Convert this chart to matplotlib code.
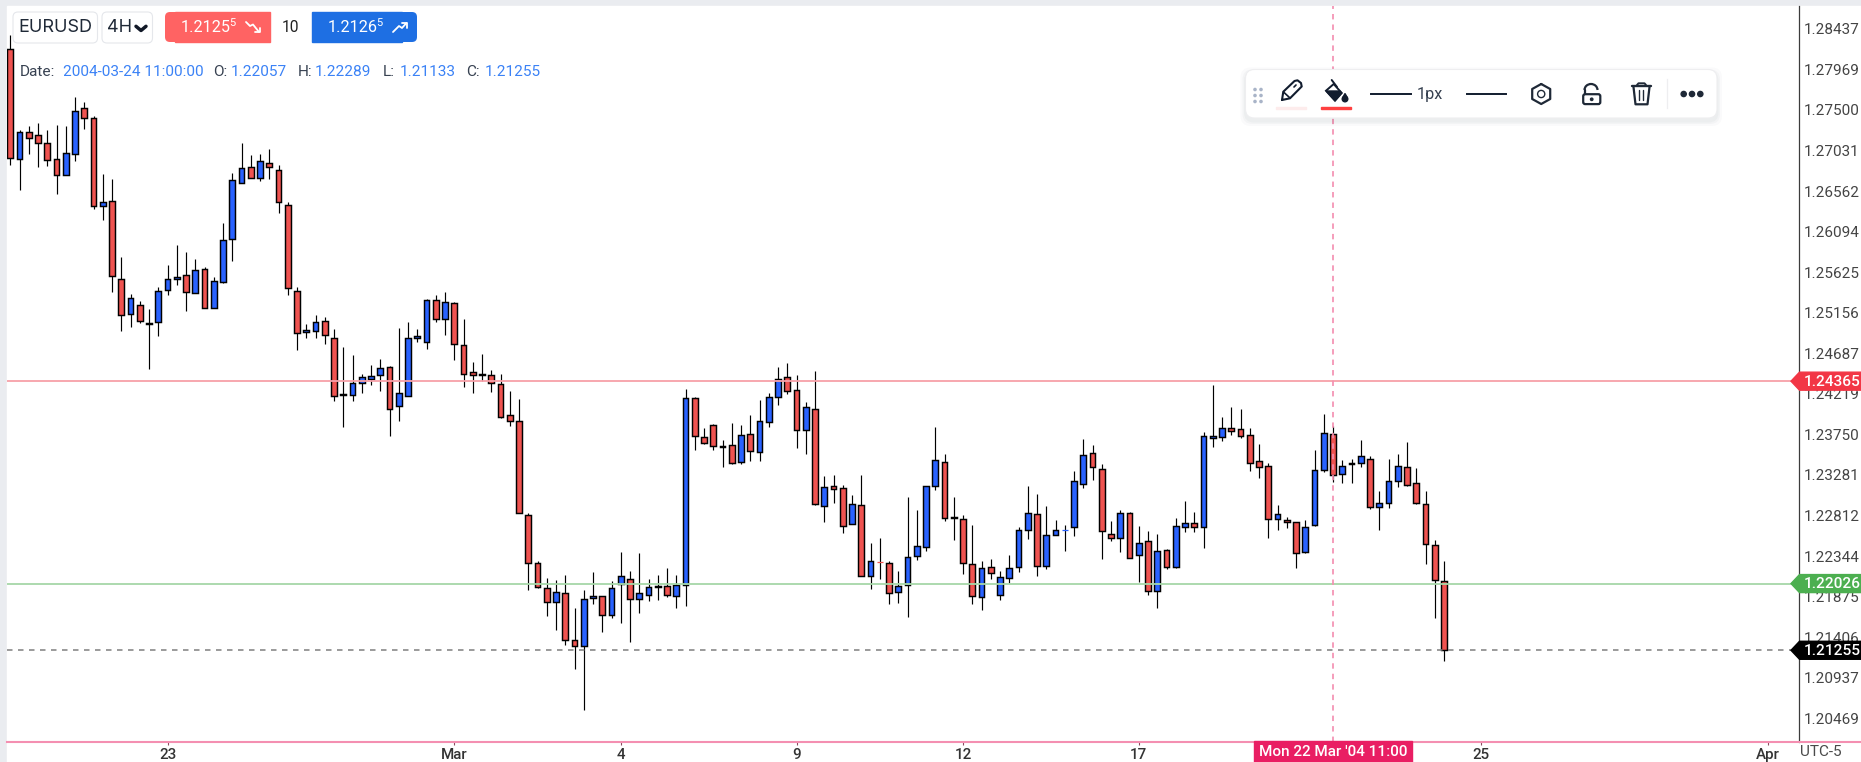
import matplotlib
matplotlib.use("Agg")
import matplotlib.pyplot as plt
from matplotlib.patches import FancyBboxPatch, Rectangle, Polygon, Circle, Arc

plt.rcParams["font.family"] = ["Roboto", "DejaVu Sans"]

# Candles (4H EURUSD)
opens = [
    1.28208, 1.26937, 1.27249, 1.27206, 1.27122, 1.26937, 1.26752, 1.26995, 1.27526, 1.27411,
    1.26394, 1.26452, 1.25550, 1.25146, 1.25250, 1.25030, 1.25053, 1.25423, 1.25550, 1.25596,
    1.25388, 1.25666, 1.25215, 1.25515, 1.26012, 1.26660, 1.26845, 1.26717, 1.26891, 1.26810,
    1.26405, 1.25411, 1.24938, 1.24949, 1.25065, 1.24868, 1.24207, 1.24210, 1.24348, 1.24394,
    1.24441, 1.24533, 1.24082, 1.24198, 1.24868, 1.24822, 1.25307, 1.25088, 1.25273, 1.24787,
    1.24475, 1.24438, 1.24441, 1.24337, 1.23978, 1.23909, 1.22823, 1.22268, 1.21975, 1.21817,
    1.21921, 1.21378, 1.21309, 1.21864, 1.21886, 1.21667, 1.22025, 1.22083, 1.21852, 1.21898,
    1.21988, 1.22002, 1.21886, 1.22014, 1.24175, 1.23724, 1.23863, 1.23609, 1.23632, 1.23435,
    1.23759, 1.23551, 1.23897, 1.24186, 1.24418, 1.24267, 1.23805, 1.24048, 1.22927, 1.23158,
    1.23135, 1.22719, 1.22938, 1.22118, 1.22280, 1.22268, 1.21933, 1.22014, 1.22349, 1.22453,
    1.23158, 1.23435, 1.22788, 1.22776, 1.22256, 1.21875, 1.22222, 1.21898, 1.22095, 1.22222,
    1.22649, 1.22834, 1.22233, 1.22591, 1.22646, 1.22684, 1.23181, 1.23539, 1.23354, 1.22603,
    1.22557, 1.22846, 1.22360, 1.22522, 1.21944, 1.22418, 1.22222, 1.22684, 1.22730, 1.22684,
    1.23713, 1.23724, 1.23828, 1.23817, 1.23747, 1.23447, 1.23389, 1.22776, 1.22765, 1.22742,
    1.22395, 1.22707, 1.23343, 1.23759, 1.23297, 1.23412, 1.23424, 1.23470, 1.22915, 1.22961,
    1.23216, 1.23377, 1.23192, 1.22950, 1.22476, 1.22057,
]
closes = [
    1.26949, 1.27249, 1.27180, 1.27122, 1.26925, 1.26752, 1.27006, 1.27492, 1.27411, 1.26394,
    1.26440, 1.25585, 1.25134, 1.25331, 1.25065, 1.25042, 1.25411, 1.25550, 1.25573, 1.25400,
    1.25654, 1.25215, 1.25527, 1.26001, 1.26694, 1.26833, 1.26717, 1.26914, 1.26845, 1.26440,
    1.25446, 1.24926, 1.24961, 1.25053, 1.24903, 1.24198, 1.24219, 1.24348, 1.24418, 1.24429,
    1.24522, 1.24048, 1.24233, 1.24868, 1.24891, 1.25307, 1.25088, 1.25284, 1.24799, 1.24452,
    1.24441, 1.24450, 1.24348, 1.23955, 1.23909, 1.22846, 1.22268, 1.21986, 1.21817, 1.21933,
    1.21378, 1.21309, 1.21852, 1.21886, 1.21667, 1.21979, 1.22118, 1.21852, 1.21921, 1.21991,
    1.21996, 1.21898, 1.22014, 1.24175, 1.23736, 1.23655, 1.23620, 1.23620, 1.23424, 1.23747,
    1.23562, 1.23909, 1.24186, 1.24394, 1.24256, 1.23805, 1.24071, 1.22950, 1.23146, 1.23123,
    1.22696, 1.22950, 1.22118, 1.22291, 1.22276, 1.21921, 1.22002, 1.22337, 1.22464, 1.23158,
    1.23458, 1.22788, 1.22800, 1.22268, 1.21886, 1.22210, 1.22152, 1.22106, 1.22210, 1.22649,
    1.22846, 1.22233, 1.22591, 1.22649, 1.22649, 1.23216, 1.23516, 1.23377, 1.22638, 1.22557,
    1.22846, 1.22326, 1.22499, 1.21944, 1.22407, 1.22222, 1.22696, 1.22730, 1.22684, 1.23736,
    1.23736, 1.23828, 1.23793, 1.23736, 1.23424, 1.23377, 1.22776, 1.22834, 1.22742, 1.22384,
    1.22684, 1.23343, 1.23770, 1.23285, 1.23389, 1.23424, 1.23504, 1.22915, 1.22961, 1.23216,
    1.23389, 1.23169, 1.22961, 1.22488, 1.22071, 1.21255,
]
highs = [
    1.28362, 1.27264, 1.27310, 1.27345, 1.27264, 1.27322, 1.27310, 1.27645, 1.27588, 1.27426,
    1.26756, 1.26706, 1.25796, 1.25377, 1.25296, 1.25203, 1.25458, 1.25704, 1.25935, 1.25858,
    1.25773, 1.25689, 1.25573, 1.26189, 1.26767, 1.27122, 1.26975, 1.26987, 1.27044, 1.26860,
    1.26432, 1.25458, 1.25030, 1.25134, 1.25111, 1.24972, 1.24764, 1.24672, 1.24452, 1.24556,
    1.24626, 1.24545, 1.24984, 1.25053, 1.24972, 1.25319, 1.25365, 1.25400, 1.25284, 1.25088,
    1.24591, 1.24683, 1.24498, 1.24452, 1.24256, 1.24155, 1.22838, 1.22291, 1.22095, 1.22071,
    1.22129, 1.21748, 1.21956, 1.22164, 1.21886, 1.22060, 1.22395, 1.22175, 1.22384, 1.22075,
    1.22121, 1.22202, 1.22121, 1.24279, 1.24186, 1.23828, 1.23874, 1.23689, 1.23886, 1.23863,
    1.23978, 1.24152, 1.24233, 1.24533, 1.24579, 1.24441, 1.24129, 1.24487, 1.23273, 1.23285,
    1.23169, 1.23054, 1.23285, 1.22499, 1.22557, 1.22291, 1.22175, 1.23031, 1.22880, 1.23158,
    1.23840, 1.23528, 1.23031, 1.22823, 1.22707, 1.22291, 1.22314, 1.22175, 1.22360, 1.22684,
    1.23158, 1.23065, 1.22927, 1.22765, 1.22707, 1.23331, 1.23701, 1.23632, 1.23412, 1.22753,
    1.22880, 1.22857, 1.22696, 1.22638, 1.22603, 1.22430, 1.22788, 1.22985, 1.22857, 1.23782,
    1.24325, 1.23955, 1.24071, 1.24048, 1.23828, 1.23643, 1.23424, 1.22938, 1.22800, 1.22742,
    1.22765, 1.23574, 1.23990, 1.23851, 1.23458, 1.23470, 1.23689, 1.23504, 1.23100, 1.23470,
    1.23528, 1.23666, 1.23366, 1.23100, 1.22534, 1.22289,
]
lows = [
    1.26863, 1.26574, 1.26990, 1.26840, 1.26851, 1.26524, 1.26752, 1.26909, 1.27276, 1.26354,
    1.26227, 1.25395, 1.24945, 1.24991, 1.25037, 1.24505, 1.24887, 1.25361, 1.25476, 1.25176,
    1.25388, 1.25215, 1.25215, 1.25499, 1.25754, 1.26660, 1.26717, 1.26678, 1.26698, 1.26308,
    1.25361, 1.24725, 1.24864, 1.24864, 1.24794, 1.24136, 1.23835, 1.24136, 1.24228, 1.24320,
    1.24251, 1.23731, 1.23904, 1.24198, 1.24818, 1.24737, 1.25049, 1.24898, 1.24609, 1.24297,
    1.24228, 1.24367, 1.24240, 1.23939, 1.23847, 1.22846, 1.21951, 1.21975, 1.21651, 1.21489,
    1.21316, 1.21038, 1.20565, 1.21789, 1.21466, 1.21628, 1.21570, 1.21350, 1.21685, 1.21824,
    1.21836, 1.21870, 1.21743, 1.21767, 1.23569, 1.23639, 1.23569, 1.23373, 1.23412, 1.23408,
    1.23442, 1.23442, 1.23835, 1.24089, 1.24221, 1.23592, 1.23523, 1.22938, 1.22737, 1.22957,
    1.22610, 1.22719, 1.22118, 1.21963, 1.22078, 1.21789, 1.21801, 1.21639, 1.22298, 1.22402,
    1.23112, 1.22749, 1.22529, 1.22136, 1.21789, 1.21720, 1.22083, 1.21836, 1.22032, 1.22159,
    1.22537, 1.22113, 1.22194, 1.22591, 1.22402, 1.22575, 1.23130, 1.23222, 1.22310, 1.22518,
    1.22395, 1.22326, 1.22044, 1.21893, 1.21743, 1.22199, 1.22210, 1.22622, 1.22622, 1.22437,
    1.23604, 1.23673, 1.23743, 1.23708, 1.23326, 1.23246, 1.22552, 1.22645, 1.22668, 1.22206,
    1.22384, 1.22691, 1.23320, 1.23204, 1.23193, 1.23188, 1.23373, 1.22888, 1.22645, 1.22899,
    1.23142, 1.23158, 1.22950, 1.22252, 1.21628, 1.21133,
]

price_ticks = [1.28437, 1.27969, 1.27500, 1.27031, 1.26562, 1.26094, 1.25625, 1.25156, 1.24687,
               1.24219, 1.23750, 1.23281, 1.22812, 1.22344, 1.21875, 1.21406, 1.20937, 1.20469]
date_tick_pos = [17, 48, 66, 85, 103, 122, 159, 190]
date_tick_labels = ["23", "Mar", "4", "9", "12", "17", "25", "Apr"]

upper_level = 1.24365
lower_level = 1.22026
last_price = 1.21255
cross_bar = 143

RED = "#EF5350"
BLUE = "#2962FF"
INK = "#1F2937"
W, H = 1861, 762

fig = plt.figure(figsize=(W / 100, H / 100), dpi=100, facecolor="#EAECF0")
fig.patches.append(Rectangle((7 / W, 0), 1, 1 - 6 / H, transform=fig.transFigure, color="white", zorder=-5))

# Price pane
ax = fig.add_axes([7 / W, (H - 742) / H, (1799 - 7) / W, (742 - 6) / H])
ax.set_xlim(-0.357, 193.37)
ax.set_ylim(1.20195, 1.28701)
ax.patch.set_alpha(0)

x = list(range(len(opens)))
ax.vlines(x, lows, highs, color="black", lw=0.85, zorder=2)
for i in x:
    o, c = opens[i], closes[i]
    col = BLUE if c >= o else RED
    if abs(c - o) < 0.00005:
        # almost flat bars show up as a thin coloured dash
        ax.hlines(o, i - 0.33, i + 0.33, color=RED if i == 94 else BLUE, lw=0.9, zorder=3)
    else:
        ax.bar(i, abs(c - o), bottom=min(o, c), width=0.62, color=col, edgecolor="black", lw=1.05, zorder=3)

ax.axhline(upper_level, color="#F7A0A8", lw=1.3, zorder=4)
ax.axhline(lower_level, color="#A6D7A8", lw=1.3, zorder=4)
ax.axhline(last_price, color="#7F7F7F", lw=1.1, dashes=(3.6, 3.6), zorder=4)
ax.axvline(cross_bar, color="#F48FB1", lw=1.3, dashes=(3.0, 2.8), zorder=5, alpha=0.95)

for s in ["top", "left", "bottom"]:
    ax.spines[s].set_visible(False)
ax.spines["right"].set_color("#3C3C3C")
ax.spines["right"].set_linewidth(0.9)

ax.yaxis.tick_right()
ax.set_yticks(price_ticks)
ax.set_yticklabels([f"{p:.5f}" for p in price_ticks], fontsize=11.0, color="#444444")
ax.tick_params(axis="y", length=0, pad=3.6)
ax.set_xticks(date_tick_pos)
ax.set_xticklabels(date_tick_labels, fontsize=10.9, color="#333333", fontweight="medium")
ax.tick_params(axis="x", length=2, width=0.8, color="#8A4A60", pad=2.5)

# Everything else is drawn in pixel space on top
ui = fig.add_axes([0, 0, 1, 1])
ui.set_xlim(0, W)
ui.set_ylim(H, 0)
ui.axis("off")
ui.patch.set_alpha(0)


def price_y(p):
    return H - ax.transData.transform((0, p))[1]


def round_box(x0, y0, x1, y1, r, face, edge="none", lw=0.8, zorder=10, alpha=1):
    b = FancyBboxPatch((x0 + r, y0 + r), x1 - x0 - 2 * r, y1 - y0 - 2 * r,
                       boxstyle=f"round,pad={r},rounding_size={r}", fc=face, ec=edge, lw=lw,
                       zorder=zorder, alpha=alpha)
    ui.add_patch(b)


def poly(pts, color, lw=1.6, zorder=12, closed=False):
    xs = [p[0] for p in pts]
    ys = [p[1] for p in pts]
    if closed:
        xs.append(xs[0])
        ys.append(ys[0])
    ui.plot(xs, ys, color=color, lw=lw, zorder=zorder, solid_capstyle="round", solid_joinstyle="round")


# bottom line of the pane and the crosshair date tag
ui.plot([7, W], [742, 742], color="#F48FB1", lw=1.5, zorder=6)
ui.add_patch(Rectangle((1254, 741), 158, 21, color="#E91E63", zorder=8))
ui.text(1333, 752, "Mon 22 Mar '04 11:00", color="white", fontsize=10.95, ha="center", va="center",
        fontweight="medium", zorder=9)
ui.text(1800, 752, "UTC-5", color="#4A4A4A", fontsize=11.1, ha="left", va="center", zorder=9)

# price tags on the axis
for p, col in [(upper_level, "#F23645"), (lower_level, "#4CAF50"), (last_price, "#000000")]:
    y = price_y(p)
    ui.add_patch(Polygon([(1791, y), (1799.5, y - 9), (W, y - 9), (W, y + 9), (1799.5, y + 9)],
                         closed=True, color=col, zorder=9))
    ui.text(1804, y + 0.5, f"{p:.5f}", color="white", fontsize=11.1, ha="left", va="center",
            fontweight="medium", zorder=10)

# header: symbol, timeframe, order buttons
round_box(13, 12, 97.5, 43, 5, "white", "#E5E7EB")
ui.text(55, 27.5, "EURUSD", family=["Inter", "DejaVu Sans"], fontsize=13, color=INK, ha="center", va="center", zorder=12)
round_box(102, 12, 152.5, 43, 5, "white", "#E5E7EB")
ui.text(107, 27.5, "4H", family=["Inter", "DejaVu Sans"], fontsize=13, color=INK, ha="left", va="center", zorder=12)
poly([(136, 26.3), (141, 30.5), (146, 26.3)], "#111827", lw=2.5)

round_box(165, 12, 200, 42, 5, "#FF6363")
ui.add_patch(Rectangle((175, 12), 94.5, 30, color="#FF6363", zorder=10))
ui.text(180.5, 27.5, "1.2125", color="white", fontsize=11.7, ha="left", va="center", zorder=12)
ui.text(229, 23, "5", color="white", fontsize=8, ha="left", va="center", zorder=12)
poly([(246, 22), (250, 26), (253, 24.5), (259, 32)], "white", lw=1.3)
poly([(254.5, 32.3), (259.5, 32.3), (259.5, 27.5)], "white", lw=1.3)

ui.text(290.5, 27, "10", color="#222222", fontsize=11.2, ha="center", va="center", zorder=12)

round_box(380, 12, 417, 42, 5, "#1E6FE3")
ui.add_patch(Rectangle((312, 12), 90, 30, color="#1E6FE3", zorder=10))
ui.text(328, 27.5, "1.2126", color="white", fontsize=11.7, ha="left", va="center", zorder=12)
ui.text(376.5, 23, "5", color="white", fontsize=8, ha="left", va="center", zorder=12)
poly([(393, 32), (399, 26), (402, 28), (406.5, 23)], "white", lw=1.3)
poly([(401.5, 23), (406.5, 23), (406.5, 28)], "white", lw=1.3)

# OHLC read-out
label_col = "#374151"
value_col = "#3B82F6"
for xt, s, c in [(20, "Date:", label_col), (62.7, "2004-03-24 11:00:00", value_col),
                 (213.3, "O:", label_col), (230.5, "1.22057", value_col),
                 (297.5, "H:", label_col), (315, "1.22289", value_col),
                 (382.5, "L:", label_col), (399.3, "1.21133", value_col),
                 (466.5, "C:", label_col), (484.3, "1.21255", value_col)]:
    ui.text(xt, 71.5, s, color=c, fontsize=11.05, ha="left", va="center", zorder=12)

# drawing toolbar with its soft shadow
for grow, a in [(5, 0.025), (3, 0.03), (1.5, 0.03)]:
    round_box(1245.5 - grow, 69.5 - grow + 3, 1717 + grow, 118 + grow + 3, 10, "#334155", zorder=13, alpha=a)
round_box(1245.5, 69.5, 1717, 118, 9, "white", "#EEEEF0", zorder=14)
Z = 16

for dx in (1255, 1261):
    for dy in (89.5, 95.5, 101.5):
        ui.add_patch(Circle((dx, dy), 1.1, color="#A9B4C8", zorder=Z))

# pencil
poly([(1282, 100), (1283.3, 91.7), (1294.5, 81), (1297.5, 80.3), (1301, 83), (1301.7, 86.5), (1290, 98.3)],
     "#111C2E", lw=1.5, zorder=Z, closed=True)
poly([(1283.5, 92), (1290, 98)], "#111C2E", lw=1.2, zorder=Z)
poly([(1294, 87), (1296, 85)], "#111C2E", lw=1.2, zorder=Z)
ui.add_patch(Rectangle((1276, 106.7), 30, 2, color="#FDECEC", zorder=Z))

# paint bucket
ui.add_patch(Polygon([(1326, 90.7), (1333.7, 84), (1341.7, 93), (1335, 100.7)], closed=True,
                     fc="white", ec="#111C2E", lw=1.4, zorder=Z))
ui.add_patch(Polygon([(1326, 91), (1340, 91), (1341.7, 93), (1335, 100.7)], closed=True, color="#111C2E", zorder=Z))
poly([(1331.7, 80), (1337, 87)], "#111C2E", lw=1.4, zorder=Z)
ui.add_patch(Circle((1345, 99), 2.8, color="#111C2E", zorder=Z))
ui.add_patch(Polygon([(1345, 93.5), (1342.5, 98), (1347.5, 98)], closed=True, color="#111C2E", zorder=Z))
ui.add_patch(Rectangle((1321, 106.7), 30, 2, color="#FF4040", zorder=Z))

# line style and width
ui.plot([1371, 1411], [93.7, 93.7], color="#111C2E", lw=1.4, zorder=Z)
ui.text(1416.3, 94, "1px", fontsize=11.7, color="#374151", ha="left", va="center", zorder=Z)
ui.plot([1466.5, 1506], [93.7, 93.7], color="#111C2E", lw=1.4, zorder=Z)

# hexagon settings
hx, hy = 1541.2, 94
poly([(hx, hy - 10), (hx + 9, hy - 5), (hx + 9, hy + 5), (hx, hy + 10), (hx - 9, hy + 5),
      (hx - 9, hy - 5)], "#1F2937", lw=1.6, zorder=Z, closed=True)
ui.add_patch(Circle((hx, hy), 3.6, fc="white", ec="#1F2937", lw=1.0, zorder=Z))

# open padlock
ui.add_patch(FancyBboxPatch((1584, 95), 15.5, 8.3, boxstyle="round,pad=0.8,rounding_size=2",
                            fc="white", ec="#1F2937", lw=1.6, zorder=Z))
ui.add_patch(Arc((1591, 90), 13, 12, theta1=180, theta2=360, ec="#1F2937", lw=1.6, zorder=Z))
poly([(1584.5, 90), (1584.5, 94)], "#1F2937", lw=1.6, zorder=Z)
ui.add_patch(Circle((1591.7, 99.3), 1.2, color="#1F2937", zorder=Z))

# trash can
poly([(1631.7, 86), (1651, 86)], "#1F2937", lw=1.7, zorder=Z)
poly([(1637, 85), (1638.5, 83.3), (1644.5, 83.3), (1646, 85)], "#1F2937", lw=1.4, zorder=Z)
poly([(1633.5, 87), (1635.5, 104.3), (1647.5, 104.3), (1649.5, 87)], "#1F2937", lw=1.6, zorder=Z)
poly([(1639.3, 90), (1639.3, 100)], "#1F2937", lw=1.0, zorder=Z)
poly([(1643.3, 90), (1643.3, 100)], "#1F2937", lw=1.0, zorder=Z)

ui.plot([1666.7, 1666.7], [79, 108], color="#EEEEF0", lw=0.9, zorder=Z)
for dx in (1683.7, 1692, 1700.3):
    ui.add_patch(Circle((dx, 94), 2.6, color="#1F2937", zorder=Z))

fig.savefig("out.png", dpi=100, facecolor=fig.get_facecolor())
